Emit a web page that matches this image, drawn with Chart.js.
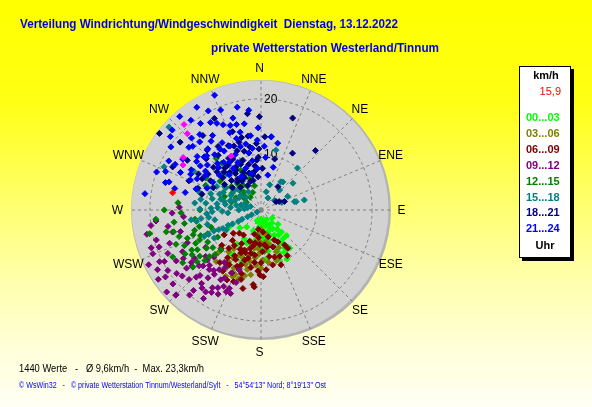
<!DOCTYPE html>
<html>
<head>
<meta charset="utf-8">
<script src="https://cdn.jsdelivr.net/npm/chart.js"></script>
<style>
  html, body { margin: 0; padding: 0; background: #fff; }
  #wrap { width: 592px; height: 407px; }
</style>
</head>
<body>
<div id="wrap"><canvas id="windChart" width="592" height="407"></canvas></div>
<script>
// wind direction (degrees from north) and speed (km/h)
const hours = ['00...03', '03...06', '06...09', '09...12', '12...15', '15...18', '18...21', '21...24'];
const directions = ['N', 'NNE', 'NE', 'ENE', 'E', 'ESE', 'SE', 'SSE', 'S', 'SSW', 'SW', 'WSW', 'W', 'WNW', 'NW', 'NNW'];
const ringTicks = [10, 20];
const maxScale = 23.4;

const w00_03 = [[150,3.1],[179,3.6],[152,5.1],[146,7.6],[137,5.4],[143,8.6],[151,8.7],[147,6.8],[148,8.1],[144,8.2],[211,12],[242,6.4],[180,1.6],[170,2.5],[185,3],[195,2.2],[160,4],[140,4.5],[135,6.5],[155,6],[165,5.5],[158,7.5],[175,5],[190,5.5],[200,4],[210,6],[205,8],[215,9.5],[200,10],[190,8],[180,7],[170,7.5],[160,9.5],[152,10],[220,4],[230,5],[165,3],[150,2],[200,2],[215,7.5],[185,6.5],[175,9],[140,3],[130,4],[125,2.5],
  [162,4.8],[168,6.3],[156,3.8],[145,5.5],[150,6.8],[157,8.4],[172,4],[178,5.8],[186,4.5],[193,6.8],[203,6.5],[208,9.8],[142,6.5],[148,4],[160,2.5],[175,1.8]];
const w03_06 = [[200,11.2],[203,13],[178,9],[183,5.7],[204,7.9],[221,12.3],[202,12.5],[171,5.8],[190,7],[195,8.5],[185,10],[175,7.5],[165,6.5],[160,8],[210,10],[215,8.5],[198,6],[188,4.5],[205,11.5],[193,11],[183,8],[172,9.5],[208,13.5],[198,13],[212,11],[180,3.5],[168,4.5],[218,9.5],[225,11],[192,9.5],[155,7.5],[163,9.5],
  [196,10.2],[201,9.2],[187,8.7],[180,10.5],[206,9],[211,12.2],[194,12.2],[189,11.8],[177,6.2],[184,7]];
const w06_09 = [[202,7.8],[188,8.2],[174,6.3],[210,11.4],[156,5.9],[146,7.6],[185,13.9],[181,11.7],[145,8.4],[168,10.1],[186,13.5],[236,8],[223,5.7],[195,9],[200,10.5],[205,8.5],[210,9.5],[215,10.5],[192,6.5],[185,5],[178,7.5],[170,8.5],[162,7],[158,9],[152,6.5],[165,5],[197,12],[205,12.5],[212,13],[218,12],[220,9],[226,10],[190,10.5],[180,9.5],[175,10.8],[160,10.5],[150,9.5],[200,6],[210,7],[215,5.5],[188,3.5],[175,4],[195,4.5],[230,6.5],[228,9.5],[193,14.5],[206,14],
  [198,9.5],[203,11],[207,10],[213,11.5],[193,8],[187,9.5],[183,11],[178,12],[196,7.2],[200,8.2],[190,6],[182,6.2],[171,6.8],[164,8.8],[208,8],[217,8],[223,7.5],[196,13],[201,13.8]];
const w09_12 = [[251,20.9],[254,19.6],[236,22.3],[230,20.7],[225,21.6],[220,18.9],[217,17.6],[202,15.2],[199,13.8],[242,19.7],[272,14.7],[256,16.4],[223,13.6],[223,16.1],[215,13.1],[234,14.8],[208,13.9],[200,11.5],[228,15],[218,15.5],[212,16.5],[226,18],[232,17],[238,16.5],[245,18.5],[248,21],[240,21.5],[233,19],[220,20],[210,14.5],[205,12.5],[215,11.5],[225,12],[230,13],[236,12],[242,16],[250,17.5],[260,17],[264,19],[268,16],[258,21],[244,22.5],[229,22.5],[219,17],[207,17],[213,19],[203,16],[226,14.5],[231,16],[237,20],[246,14.5],[255,15],[200,16],[211,17.3],[225,21.7],[265,14],
  [221,14.2],[227,13.2],[233,15.7],[239,17.8],[216,14.3],[224,16.8],[230,18.5],[212,12.2],[206,15.3],[218,13.8],[235,21],[250,19.5],[262,20],[243,20.5],[209,16],[214,17.8]];
const w12_15 = [[313,5.3],[335,7],[329,8.8],[319,12.3],[294,10.9],[326,8.6],[310,4],[320,3],[300,6],[315,7.5],[330,5],[340,6],[305,9],[322,10],[290,7],[285,5.5],[298,3],[335,3.5],[345,4.5],[318,6.2],[300,11.5],
  [308,6.8],[316,4.5],[324,5.5],[333,8],[327,6.5],[312,9.5],[303,7.8],[296,5],[305,3.8],[338,9.5],[320,11],
  [270,17.4],[268,14.4],[257,17.5],[240,15.8],[240,14.4],[244,12.3],[245,15.2],[228,13.6],[251,9.5],[238,9.2],[225,10.2],[250,13],[235,12],[230,16],[248,16.5],[236,17],[255,11.5],[260,14],[242,18],[232,11],[246,10.5],[252,15.5],[265,19],[258,20.5],[238,13.5],[228,12.5],[262,12],[270,11],[275,15],
  [243,13.2],[237,14.8],[247,11.8],[233,13.8],[253,12.5],[239,11.2],[249,14.2],[231,14.8],[256,16.2],[262,15.8],[226,11.5]];
const w15_18 = [[283,6.8],[272,9],[284,3.7],[262,10.9],[262,12.7],[275,5.5],[290,5],[295,7.5],[300,4.5],[278,8],[268,7],[288,9.5],[280,11],[270,4],[292,3],[305,6],[310,3.5],[266,9.8],[276,12],[285,7.5],[298,9],[312,5.5],[258,8.5],[265,6],[280,2.5],
  [287,5.8],[279,6.5],[273,7.8],[268,8.8],[283,9],[291,8],[296,6],[302,7.5],[277,10],[271,11],[286,11.5],[262,9.5],[281,4.5],[274,3],[289,2],[306,4.5],[293,10.5],[255,10],[260,11.8],
  [242,0.8],[243,1.9],[243,2.7],[244,3.8],[243,4.6],[244,5.7],[245,6.5],[244,7.6],[245,8.4],[246,9.3],[245,10.4],[245,11.3],[239,9.8],[240,7.2],
  [41,10],[77,8],[76.6,6.5],[35,6.2],[63,5.4],[14,11.1],[38,6.4],[76,6.2],[16,3.4],[19,4.8],[43,4.9],[55,3],[30,2.5],[70,4],[50,7.5],
  [312,22.3],[294,19.1],[300,14],[315,9],[325,4]];
const w18_21 = [[320,6.6],[319,10],[350,7],[325,8],[330,9],[335,7.5],[340,9.5],[345,8.5],[315,7.5],[310,9],[305,8],[328,11],[338,11.5],[348,10.5],[355,9],[358,11],[312,11.5],[322,12.5],[333,13],[300,10.5],[295,9.5],[289,12],[285,11],[318,5.5],[332,5],[345,5.5],[355,6],[2,7.5],[308,6.5],[342,12.8],[327,6.2],[313,13.5],[300,13],[350,13.5],[340,15],
  [323,7],[328,8.5],[336,9],[342,7],[347,6.5],[352,8],[357,9.5],[316,9.5],[311,10.5],[324,10],[331,10.5],[337,12.5],[344,11],[320,8.8],[333,6.5],[340,5.5],[350,11.5],[326,13.8],[318,14.5],[304,11.5],[298,12],[292,14],[345,13.5],[356,12],
  [19,17.5],[42.5,14.5],[29,11.7],[65,3.6],[70,4.5],[359,16.8],[307,22.9],[296,17.7],[3,13.2],[8,13.3],[36,5.2],[61,3.1],[352,17.5],[333,18.5],[322,17],[304,16],[310,19],[15,9.5]];
const w21_24 = [[338,22.3],[328,21.8],[319,22.3],[312,21.5],[322,20.5],[332,20.2],[338,19.4],[343,17.3],[353,18.1],[347,19.0],[325,19.0],[316,18.0],[305,19.8],[298,18.8],[286,17.9],[278,21.1],[290,20.0],[309,21.0],[333,17.5],[318,16.5],[324,15.3],[310,15.0],[300,14.5],[295,16.0],[315,13.8],[330,14.0],[338,15.0],[345,14.5],[352,13.5],[357,12.6],[8,13.3],[14,12.4],[3,11.5],[322,10.9],[310,12.6],[288,12.3],[302,11.8],[317,11.5],[328,12.5],[335,11.0],[342,12.0],[348,10.5],[320,13.0],[306,13.5],[296,12.8],[283,14.0],[313,16.8],[327,16.0],[340,16.2],[11,6.4],[334,9.5],[326,9.0],[318,8.5],[340,8.0],[350,9.0],[310,9.8],[300,10.0],[355,7.5],[345,6.8],[330,7.0],[292,10.5],[5,9.5],[16,8.0],[287,17.3],[313,14],
  [321,17.5],[330,18.2],[336,16.8],[344,16],[349,15.8],[311,17.2],[303,16.8],[297,14.2],[307,14.5],[319,14.6],[326,13.2],[334,12.8],[341,13.6],[347,12.2],[352,11.2],[358,14.8],[305,12.2],[293,13.8],[284,16],[315,10.8],[327,10.3],[298,17.5],[292,18.5]];
const extraPts = [[318,20.7],[316,19.1],[304,16.9],[300,16.2],[331,11.1]];
const currentPt = [[281,16.2]];

const currentSpeed = '15,9';
const totalValues = 1440;
const avgSpeed = '9,6';
const maxSpeed = '23,3';

const groups = [w00_03, w03_06, w06_09, w09_12, w12_15, w15_18, w18_21, w21_24];
const groupColors = ['#00ff00', '#808000', '#800000', '#800080', '#008000', '#008080', '#000080', '#0000ff'];

const FONT = "'Liberation Sans', Arial, sans-serif";

function toXY(p) {
    const a = p[0] * Math.PI / 180;
    return { x: p[1] * Math.sin(a), y: p[1] * Math.cos(a) };
}

// background gradient, polar grid and labels
const windRose = {
    id: 'windRose',
    beforeDraw(chart) {
        const { ctx, width, height } = chart;
        const g = ctx.createLinearGradient(0, 0, 0, height);
        g.addColorStop(0, '#ffff00');
        g.addColorStop(0.25, '#ffff14');
        g.addColorStop(0.5, '#ffff6e');
        g.addColorStop(0.7, '#ffffb0');
        g.addColorStop(0.85, '#ffffd8');
        g.addColorStop(1, '#fffff4');
        ctx.save();
        ctx.fillStyle = g;
        ctx.fillRect(0, 0, width, height);
        ctx.restore();
    },
    beforeDatasetsDraw(chart) {
        const { ctx, scales: { x, y } } = chart;
        const cx = x.getPixelForValue(0), cy = y.getPixelForValue(0);
        const R = x.getPixelForValue(maxScale) - cx;
        ctx.save();
        ctx.fillStyle = '#b4b4b4';
        ctx.beginPath(); ctx.arc(cx, cy, R, 0, Math.PI * 2); ctx.fill();
        ctx.fillStyle = '#d2d2d2';
        ctx.beginPath(); ctx.arc(cx - 1, cy - 1, R - 1.5, 0, Math.PI * 2); ctx.fill();

        ctx.strokeStyle = '#808080';
        ctx.lineWidth = 1;
        ctx.setLineDash([3, 3]);
        ringTicks.forEach(v => {
            const r = x.getPixelForValue(v) - cx;
            ctx.beginPath(); ctx.arc(cx, cy, r, 0, Math.PI * 2); ctx.stroke();
        });
        directions.forEach((d, i) => {
            const a = i * Math.PI / 8;
            ctx.beginPath();
            ctx.moveTo(cx, cy);
            ctx.lineTo(cx + R * Math.sin(a), cy - R * Math.cos(a));
            ctx.stroke();
        });
        ctx.setLineDash([]);

        ctx.fillStyle = '#000';
        ctx.font = '12px ' + FONT;
        ctx.textBaseline = 'middle';
        ctx.textAlign = 'left';
        ringTicks.forEach(v => {
            ctx.fillText(String(v), cx + 3, y.getPixelForValue(v) + 0.5);
        });
        ctx.textAlign = 'center';
        directions.forEach((d, i) => {
            const a = i * Math.PI / 8;
            ctx.fillText(d, cx - 1.5 + 142 * Math.sin(a), cy + 0.5 - 142 * Math.cos(a));
        });
        ctx.restore();
    },
    afterDraw(chart) {
        const { ctx } = chart;
        ctx.save();
        ctx.textBaseline = 'middle';
        ctx.textAlign = 'left';
        ctx.fillStyle = '#0000f0';
        ctx.font = 'bold 12.5px ' + FONT;
        ctx.fillText('Verteilung Windrichtung/Windgeschwindigkeit  Dienstag, 13.12.2022', 20, 25, 378);
        ctx.fillText('private Wetterstation Westerland/Tinnum', 211, 49, 228);

        ctx.fillStyle = '#000';
        ctx.font = '11.5px ' + FONT;
        ctx.fillText(totalValues + ' Werte   -   Ø ' + avgSpeed + 'km/h  -  Max. ' + maxSpeed + 'km/h', 19, 369, 185);
        ctx.fillStyle = '#0000ff';
        ctx.font = '8.5px ' + FONT;
        ctx.fillText('© WsWin32   -   © private Wetterstation Tinnum/Westerland/Sylt   -   54°54\'13" Nord; 8°19\'13" Ost', 19, 386, 307);

        // legend box
        ctx.fillStyle = '#000';
        ctx.fillRect(522, 69, 52, 192);
        ctx.fillStyle = '#fff';
        ctx.fillRect(519, 66, 52, 192);
        ctx.strokeStyle = '#000';
        ctx.lineWidth = 1;
        ctx.strokeRect(519.5, 66.5, 51, 191);

        ctx.fillStyle = '#000';
        ctx.font = 'bold 11px ' + FONT;
        ctx.textAlign = 'center';
        ctx.fillText('km/h', 546, 76);
        ctx.fillStyle = '#ff0000';
        ctx.font = '11px ' + FONT;
        ctx.textAlign = 'right';
        ctx.fillText(currentSpeed, 561, 92);
        ctx.textAlign = 'left';
        ctx.font = 'bold 11px ' + FONT;
        hours.forEach((h, i) => {
            ctx.fillStyle = groupColors[i];
            ctx.fillText(h, 526, 118 + i * 15.9);
        });
        ctx.fillStyle = '#000';
        ctx.textAlign = 'center';
        ctx.fillText('Uhr', 545, 246);
        ctx.restore();
    }
};

const datasets = groups.map((g, i) => ({
    label: hours[i],
    data: g.map(toXY),
    backgroundColor: groupColors[i],
    borderColor: groupColors[i],
    order: groups.length - i + 2,
    clip: false
}));
datasets.push({ label: 'extra', data: extraPts.map(toXY), backgroundColor: '#ff00ff', borderColor: '#ff00ff', order: 2, clip: false });
datasets.push({ label: 'aktuell', data: currentPt.map(toXY), backgroundColor: '#ff0000', borderColor: '#ff0000', order: 1, clip: false });

const ctx = document.getElementById('windChart').getContext('2d');
const windChart = new Chart(ctx, {
    type: 'scatter',
    data: { datasets: datasets },
    options: {
        responsive: false,
        animation: false,
        layout: { padding: { left: 131, right: 201, top: 80, bottom: 67 } },
        scales: {
            x: { type: 'linear', min: -maxScale, max: maxScale, display: false },
            y: { type: 'linear', min: -maxScale, max: maxScale, display: false }
        },
        elements: {
            point: { pointStyle: 'rectRot', radius: 3, borderWidth: 1, hoverRadius: 3 }
        },
        plugins: {
            legend: { display: false },
            tooltip: { enabled: false }
        }
    },
    plugins: [windRose]
});
</script>
</body>
</html>
